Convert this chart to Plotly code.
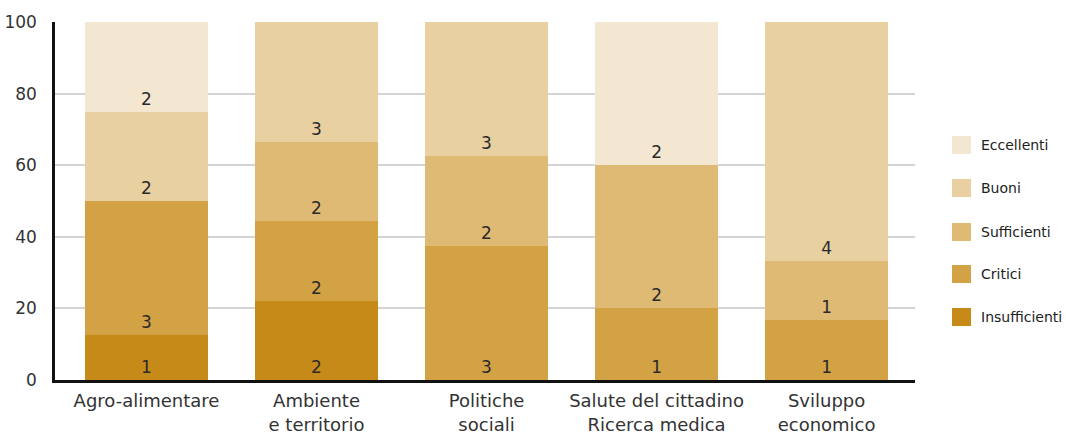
import plotly.graph_objects as go

categories = ["Agro-alimentare", "Ambiente<br>e territorio", "Politiche<br>sociali",
              "Salute del cittadino<br>Ricerca medica", "Sviluppo<br>economico"]

levels = ["Insufficienti", "Critici", "Sufficienti", "Buoni", "Eccellenti"]

# percentage share of each level per category
pct_insufficienti = [12.5, 22.2, 0, 0, 0]
pct_critici = [37.5, 22.2, 37.5, 20.0, 16.7]
pct_sufficienti = [0, 22.2, 25.0, 40.0, 16.6]
pct_buoni = [25.0, 33.4, 37.5, 0, 66.7]
pct_eccellenti = [25.0, 0, 0, 40.0, 0]

# counts shown as labels in the segments
cnt_insufficienti = [1, 2, None, None, None]
cnt_critici = [3, 2, 3, 1, 1]
cnt_sufficienti = [None, 2, 2, 2, 1]
cnt_buoni = [2, 3, 3, None, 4]
cnt_eccellenti = [2, None, None, 2, None]

colors = {
    "Insufficienti": "#c68a18",
    "Critici": "#d2a244",
    "Sufficienti": "#dfba74",
    "Buoni": "#e8d0a1",
    "Eccellenti": "#f3e7d2",
}

series = [
    ("Insufficienti", pct_insufficienti, cnt_insufficienti),
    ("Critici", pct_critici, cnt_critici),
    ("Sufficienti", pct_sufficienti, cnt_sufficienti),
    ("Buoni", pct_buoni, cnt_buoni),
    ("Eccellenti", pct_eccellenti, cnt_eccellenti),
]

FONT = "DejaVu Sans"
fig = go.Figure()
for name, vals, cnts in series:
    fig.add_trace(go.Bar(
        x=list(range(len(categories))), y=vals, name=name,
        marker=dict(color=colors[name], line=dict(width=0)),
        text=["" if c is None else str(c) for c in cnts],
        textposition="inside", insidetextanchor="start", textangle=0,
        insidetextfont=dict(family=FONT, size=17, color="#2a2a2a"),
        width=0.72, showlegend=False, hoverinfo="skip",
    ))

# layout geometry (pixels)
W, H = 1066, 435
L, R, T, B = 55, 151, 22, 55
pw, ph = W - L - R, H - T - B

fig.update_layout(
    width=W, height=H, barmode="stack",
    margin=dict(l=L, r=R, t=T, b=B, pad=0, autoexpand=False),
    plot_bgcolor="white", paper_bgcolor="white",
    font=dict(family=FONT, color="#333333"),
    uniformtext=dict(minsize=10, mode="show"),
    xaxis=dict(
        tickmode="array", tickvals=list(range(len(categories))), ticktext=categories,
        range=[-0.538, 4.52], showgrid=False, zeroline=False, automargin=False,
        showline=True, linecolor="#111111", linewidth=2.5,
        ticks="", tickfont=dict(family=FONT, size=18, color="#333333"),
        ticklabelstandoff=3,
    ),
    yaxis=dict(
        range=[0, 100], tickvals=[0, 20, 40, 60, 80, 100], automargin=False,
        showgrid=True, gridcolor="#d4d4d4", gridwidth=2, zeroline=False,
        showline=True, linecolor="#111111", linewidth=2.5,
        ticks="", tickfont=dict(family=FONT, size=17, color="#333333"),
        ticklabelstandoff=12,
    ),
)

# manual legend matching the reference layout
legend_items = ["Eccellenti", "Buoni", "Sufficienti", "Critici", "Insufficienti"]
legend_y_px = [145, 188, 232, 274, 317]
sq_x0, sq_x1, sq_h = 952, 971, 18


def px_x(v):
    return (v - L) / pw


def px_y(v):
    return (H - B - v) / ph


for name, cy in zip(legend_items, legend_y_px):
    fig.add_shape(type="rect", xref="paper", yref="paper",
                  x0=px_x(sq_x0), x1=px_x(sq_x1),
                  y0=px_y(cy + sq_h / 2), y1=px_y(cy - sq_h / 2),
                  fillcolor=colors[name], line=dict(width=0))
    fig.add_annotation(xref="paper", yref="paper", x=px_x(979), y=px_y(cy),
                       xanchor="left", yanchor="middle", showarrow=False,
                       text=name, font=dict(family=FONT, size=14, color="#222222"))

fig.write_html("out.html", config={"displayModeBar": False},
               post_script="document.body.style.margin='0px';")
